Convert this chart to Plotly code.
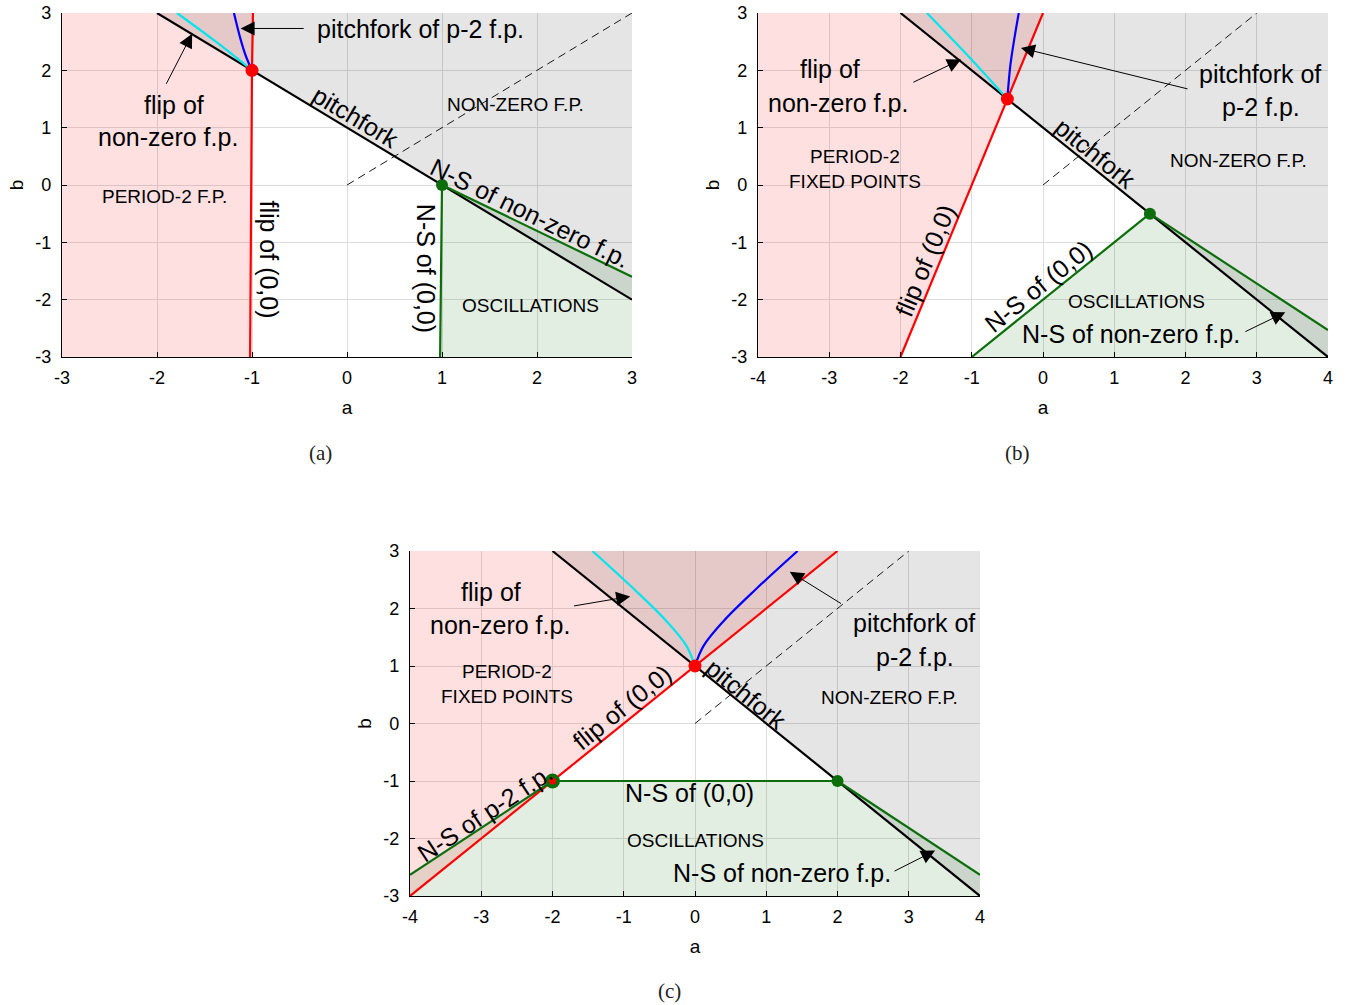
import plotly.graph_objects as go

# ---------------- data ----------------
TICKS_A = [-3, -2, -1, 0, 1, 2, 3]
TICKS_B = [-4, -3, -2, -1, 0, 1, 2, 3, 4]
TICKS_Y = [-3, -2, -1, 0, 1, 2, 3]

# Panel (a)
rng_a_x = [-3, 3]
rng_a_y = [-3, 3]
a_pitch_a = [-2, 3]
b_pitch_a = [3, -2]
a_flip00_a = [-0.99, -1.0, -1.02]
b_flip00_a = [3, 2, -3]
a_ns00_a = [1.0, 0.98]
b_ns00_a = [0, -3]
a_nsnz_a = [1, 3]
b_nsnz_a = [0, -1.6]
a_pfp2_a = [-1, -1.065, -1.12, -1.19]
b_pfp2_a = [2, 2.25, 2.54, 3]
a_flipnz_a = [-1, -1.38, -1.79]
b_flipnz_a = [2, 2.5, 3]
a_dash_a = [0, 3]
b_dash_a = [0, 3]
red_pts_a = ([-1], [2])
green_pts_a = ([1], [0])

# Panel (b)
rng_b_x = [-4, 4]
rng_b_y = [-3, 3]
a_pitch_b = [-2, 4]
b_pitch_b = [3, -3]
a_flip00_b = [0, -0.5, -2]
b_flip00_b = [3, 1.5, -3]
a_ns00_b = [-1, 1.5]
b_ns00_b = [-3, -0.5]
a_nsnz_b = [1.5, 4]
b_nsnz_b = [-0.5, -2.53]
a_pfp2_b = [-0.5, -0.46, -0.405, -0.34]
b_pfp2_b = [1.5, 2.07, 2.53, 3]
a_flipnz_b = [-0.5, -1.05, -1.63]
b_flipnz_b = [1.5, 2.25, 3]
a_dash_b = [0, 3]
b_dash_b = [0, 3]
red_pts_b = ([-0.5], [1.5])
green_pts_b = ([1.5], [-0.5])

# Panel (c)
rng_c_x = [-4, 4]
rng_c_y = [-3, 3]
a_pitch_c = [-2, 4]
b_pitch_c = [3, -3]
a_flip00_c = [2, -4]
b_flip00_c = [3, -3]
a_nsp2_c = [-4, -2]
b_nsp2_c = [-2.63, -1]
a_ns00_c = [-2, 2]
b_ns00_c = [-1, -1]
a_nsnz_c = [2, 4]
b_nsnz_c = [-1, -2.63]
a_pfp2_c = [0, 0.12, 0.4, 0.85, 1.44]
b_pfp2_c = [1, 1.35, 1.78, 2.33, 3]
a_flipnz_c = [0, -0.12, -0.4, -0.85, -1.44]
b_flipnz_c = [1, 1.35, 1.78, 2.33, 3]
a_dash_c = [0, 3]
b_dash_c = [0, 3]
red_pts_c = ([0, -2], [1, -1])
green_pts_c = ([-2, 2], [-1, -1])

# ---------------- styles ----------------
PINK = "rgba(255,0,0,0.12)"
GRAY = "rgba(0,0,0,0.10)"
GREEN_FILL = "rgba(0,100,0,0.11)"
RED = "#ff0000"
BLACK = "#000000"
DGREEN = "#0b6e0b"
CYAN = "#00e5ee"
BLUE = "#0000ff"
SANS = "Liberation Sans, Arial, sans-serif"
SERIF = "Liberation Serif, DejaVu Serif, serif"
BIG = 25
SMALL = 19

fig = go.Figure()


def fill(xs, ys, color, xa, ya):
    fig.add_trace(go.Scatter(x=xs, y=ys, fill="toself", fillcolor=color, mode="none",
                             hoverinfo="skip", showlegend=False, xaxis=xa, yaxis=ya))


def line(xs, ys, color, xa, ya, width=2.2, dash=None, shape="linear"):
    fig.add_trace(go.Scatter(x=xs, y=ys, mode="lines",
                             line=dict(color=color, width=width, dash=dash, shape=shape,
                                       smoothing=1.0),
                             hoverinfo="skip", showlegend=False, xaxis=xa, yaxis=ya))


def dots(pts, color, size, xa, ya):
    fig.add_trace(go.Scatter(x=pts[0], y=pts[1], mode="markers",
                             marker=dict(color=color, size=size),
                             hoverinfo="skip", showlegend=False, xaxis=xa, yaxis=ya,
                             cliponaxis=False))


# ---- panel (a)
xa, ya = "x", "y"
x0, x1 = rng_a_x
y0, y1 = rng_a_y
fill([a_ns00_a[1]] + [a_ns00_a[0]] + a_nsnz_a[1:] + [x1],
     [y0] + [b_ns00_a[0]] + b_nsnz_a[1:] + [y0], GREEN_FILL, xa, ya)
fill([x0] + a_flip00_a[::-1] + [x0], [y0] + b_flip00_a[::-1] + [y1], PINK, xa, ya)
fill(a_pitch_a + [x1], b_pitch_a + [y1], GRAY, xa, ya)
line(a_dash_a, b_dash_a, BLACK, xa, ya, width=0.9, dash="8px,5px")
line(a_flip00_a, b_flip00_a, RED, xa, ya)
line(a_pitch_a, b_pitch_a, BLACK, xa, ya)
line(a_ns00_a, b_ns00_a, DGREEN, xa, ya)
line(a_nsnz_a, b_nsnz_a, DGREEN, xa, ya)
line(a_flipnz_a, b_flipnz_a, CYAN, xa, ya, shape="spline")
line(a_pfp2_a, b_pfp2_a, BLUE, xa, ya, shape="spline")
dots(red_pts_a, RED, 13, xa, ya)
dots(green_pts_a, DGREEN, 12, xa, ya)

# ---- panel (b)
xa, ya = "x2", "y2"
x0, x1 = rng_b_x
y0, y1 = rng_b_y
fill(a_ns00_b + a_nsnz_b[1:] + [x1], b_ns00_b + b_nsnz_b[1:] + [y0], GREEN_FILL, xa, ya)
fill([x0] + a_flip00_b[::-1] + [a_flip00_b[0], x0], [y0] + b_flip00_b[::-1] + [y1, y1], PINK, xa, ya)
fill(a_pitch_b + [x1], b_pitch_b + [y1], GRAY, xa, ya)
line(a_dash_b, b_dash_b, BLACK, xa, ya, width=0.9, dash="8px,5px")
line(a_flip00_b, b_flip00_b, RED, xa, ya)
line(a_pitch_b, b_pitch_b, BLACK, xa, ya)
line(a_ns00_b, b_ns00_b, DGREEN, xa, ya)
line(a_nsnz_b, b_nsnz_b, DGREEN, xa, ya)
line(a_flipnz_b, b_flipnz_b, CYAN, xa, ya, shape="spline")
line(a_pfp2_b, b_pfp2_b, BLUE, xa, ya, shape="spline")
dots(red_pts_b, RED, 13, xa, ya)
dots(green_pts_b, DGREEN, 12, xa, ya)

# ---- panel (c)
xa, ya = "x3", "y3"
x0, x1 = rng_c_x
y0, y1 = rng_c_y
fill([x0] + a_nsp2_c + a_ns00_c[1:] + a_nsnz_c[1:] + [x1],
     [y0] + b_nsp2_c + b_ns00_c[1:] + b_nsnz_c[1:] + [y0], GREEN_FILL, xa, ya)
fill(a_flip00_c + [x0], b_flip00_c + [y1], PINK, xa, ya)
fill(a_pitch_c + [x1], b_pitch_c + [y1], GRAY, xa, ya)
line(a_dash_c, b_dash_c, BLACK, xa, ya, width=0.9, dash="8px,5px")
line(a_flip00_c, b_flip00_c, RED, xa, ya)
line(a_pitch_c, b_pitch_c, BLACK, xa, ya)
line(a_nsp2_c, b_nsp2_c, DGREEN, xa, ya)
line(a_ns00_c, b_ns00_c, DGREEN, xa, ya)
line(a_nsnz_c, b_nsnz_c, DGREEN, xa, ya)
line(a_flipnz_c, b_flipnz_c, CYAN, xa, ya, shape="spline")
line(a_pfp2_c, b_pfp2_c, BLUE, xa, ya, shape="spline")
dots(([green_pts_c[0][0]], [green_pts_c[1][0]]), DGREEN, 15, xa, ya)
dots(([green_pts_c[0][1]], [green_pts_c[1][1]]), DGREEN, 12, xa, ya)
dots(([red_pts_c[0][0]], [red_pts_c[1][0]]), RED, 13, xa, ya)
dots(([red_pts_c[0][1]], [red_pts_c[1][1]]), RED, 7, xa, ya)

# ---------------- annotations ----------------
ann = []


def txt(x, y, s, ref, size=BIG, angle=0):
    ann.append(dict(x=x, y=y, text=s, xref="x" + ref, yref="y" + ref, showarrow=False,
                    textangle=angle, font=dict(family=SANS, size=size, color="black"),
                    xanchor="center", yanchor="middle"))


def arrow(tx, ty, hx, hy, ref):
    ann.append(dict(x=hx, y=hy, ax=tx, ay=ty, text="", xref="x" + ref, yref="y" + ref,
                    axref="x" + ref, ayref="y" + ref, showarrow=True, arrowhead=2,
                    arrowsize=2.8, arrowwidth=1, arrowcolor="black"))


# (a)
txt(0.77, 2.72, "pitchfork of p-2 f.p.", "")
arrow(-0.44, 2.73, -1.12, 2.73, "")
txt(-1.82, 1.40, "flip of", "")
txt(-1.885, 0.84, "non-zero f.p.", "")
arrow(-1.91, 1.74, -1.63, 2.64, "")
txt(-1.92, -0.20, "PERIOD-2 F.P.", "", SMALL)
txt(-0.82, -1.30, "flip of (0,0)", "", BIG, 90)
txt(0.09, 1.18, "pitchfork", "", BIG, 31)
txt(1.77, 1.40, "NON-ZERO F.P.", "", SMALL)
txt(1.93, -0.49, "N-S of non-zero f.p.", "", BIG, 26)
txt(0.83, -1.46, "N-S of (0,0)", "", BIG, 90)
txt(1.93, -2.11, "OSCILLATIONS", "", SMALL)

# (b)
txt(-2.99, 2.03, "flip of", "2")
txt(-2.88, 1.43, "non-zero f.p.", "2")
arrow(-1.84, 1.78, -1.15, 2.19, "2")
txt(3.04, 1.94, "pitchfork of", "2")
txt(3.06, 1.36, "p-2 f.p.", "2")
arrow(2.05, 1.67, -0.31, 2.39, "2")
txt(-2.64, 0.49, "PERIOD-2", "2", SMALL)
txt(-2.64, 0.06, "FIXED POINTS", "2", SMALL)
txt(2.74, 0.43, "NON-ZERO F.P.", "2", SMALL)
txt(0.73, 0.56, "pitchfork", "2", BIG, 39)
txt(-1.65, -1.31, "flip of (0,0)", "2", BIG, -67.5)
txt(-0.06, -1.77, "N-S of (0,0)", "2", BIG, -39)
txt(1.31, -2.04, "OSCILLATIONS", "2", SMALL)
txt(1.24, -2.60, "N-S of non-zero f.p.", "2")
arrow(2.82, -2.57, 3.40, -2.22, "2")

# (c)
txt(-2.86, 2.29, "flip of", "3")
txt(-2.74, 1.71, "non-zero f.p.", "3")
arrow(-1.72, 2.04, -0.91, 2.21, "3")
txt(3.07, 1.74, "pitchfork of", "3")
txt(3.09, 1.16, "p-2 f.p.", "3")
arrow(2.07, 2.07, 1.33, 2.64, "3")
txt(-2.64, 0.91, "PERIOD-2", "3", SMALL)
txt(-2.64, 0.47, "FIXED POINTS", "3", SMALL)
txt(2.73, 0.45, "NON-ZERO F.P.", "3", SMALL)
txt(0.72, 0.52, "pitchfork", "3", BIG, 39)
txt(-1.02, 0.28, "flip of (0,0)", "3", BIG, -39)
txt(-2.95, -1.55, "N-S of p-2 f.p.", "3", BIG, -33.4)
txt(-0.08, -1.21, "N-S of (0,0)", "3")
txt(0.0, -2.03, "OSCILLATIONS", "3", SMALL)
txt(1.22, -2.60, "N-S of non-zero f.p.", "3")
arrow(2.78, -2.58, 3.37, -2.21, "3")

# panel captions
for lab, px, py in [("(a)", 0.2381, 0.5493), ("(b)", 0.7545, 0.5493), ("(c)", 0.4963, 0.0139)]:
    ann.append(dict(x=px, y=py, xref="paper", yref="paper", text=lab, showarrow=False,
                    font=dict(family=SERIF, size=21, color="#222"),
                    xanchor="center", yanchor="middle"))

W, H = 1348, 1005


def xdom(l, r):
    return [l / W, r / W]


def ydom(t, b):
    return [1 - b / H, 1 - t / H]


axis_common = dict(showgrid=True, gridcolor="#dddddd", gridwidth=1, zeroline=False,
                   showline=True, linecolor="black", linewidth=1.3, mirror=False,
                   ticks="inside", ticklen=5, tickcolor="black", tickwidth=1,
                   automargin=False,
                   tickfont=dict(family=SANS, size=18, color="black"), tickmode="array")


def xaxis(dom, rng, tv, anchor):
    d = dict(axis_common)
    d.update(domain=dom, range=rng, tickvals=tv, ticktext=[str(v) for v in tv], anchor=anchor,
             ticklabelstandoff=4,
             title=dict(text="a", font=dict(family=SANS, size=19, color="black"), standoff=13))
    return d


def yaxis(dom, rng, tv, anchor):
    d = dict(axis_common)
    d.update(domain=dom, range=rng, tickvals=tv, ticktext=[str(v) for v in tv], anchor=anchor,
             ticklabelstandoff=6,
             title=dict(text="b", font=dict(family=SANS, size=19, color="black"), standoff=6))
    return d


fig.update_layout(
    width=W, height=H, margin=dict(l=0, r=0, t=0, b=0, autoexpand=False),
    paper_bgcolor="white", plot_bgcolor="white", showlegend=False,
    xaxis=xaxis(xdom(62, 632), rng_a_x, TICKS_A, "y"),
    yaxis=yaxis(ydom(13, 357), rng_a_y, TICKS_Y, "x"),
    xaxis2=xaxis(xdom(758, 1328), rng_b_x, TICKS_B, "y2"),
    yaxis2=yaxis(ydom(13, 357), rng_b_y, TICKS_Y, "x2"),
    xaxis3=xaxis(xdom(410, 980), rng_c_x, TICKS_B, "y3"),
    yaxis3=yaxis(ydom(551, 896), rng_c_y, TICKS_Y, "x3"),
    annotations=ann,
)

fig.write_html("out.html")
